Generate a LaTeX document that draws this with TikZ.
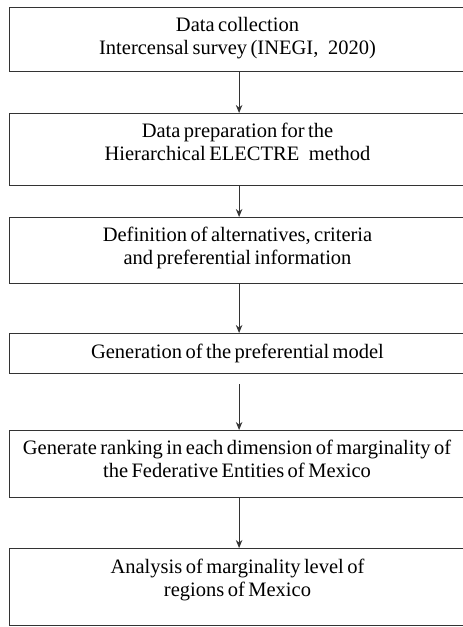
\documentclass[tikz,border=0pt]{standalone}
\usepackage{fontspec}
\setmainfont{Liberation Serif}
\usetikzlibrary{arrows.meta,calc}
\newcommand\boxtextfont{\fontsize{20.5}{23}\selectfont\spaceskip=0.17em plus 0.05em minus 0.05em\relax}
\begin{document}
\begin{tikzpicture}[x=1pt,y=-1pt,
 box/.style={draw=black!80, line width=1.2pt, rectangle, inner sep=0pt, minimum width=459pt, anchor=north west},
 txt/.style={align=center, font=\boxtextfont, inner sep=0pt, text=black, anchor=base},
 arr/.style={draw=black!80, line width=0.9pt, -{Stealth[length=8pt,width=6.5pt]}}]
\useasboundingbox (0,0) rectangle (463,627);
\clip (0,0) rectangle (463,627);
\fill[white] (0,0) rectangle (463,627);
\node[box, minimum height=64pt] (b1) at (9,7) {};
\node[box, minimum height=72pt] (b2) at (9,113) {};
\node[box, minimum height=66pt] (b3) at (9,217) {};
\node[box, minimum height=40pt] (b4) at (9,333) {};
\node[box, minimum height=67pt] (b5) at (9,430) {};
\node[box, minimum height=77pt] (b6) at (9,548) {};
\node[txt] (t1) at (237.5,54) {Data collection\\Intercensal survey (INEGI, \hspace{0.3em}2020)};
\node[txt] (t2) at (237.5,160) {Data preparation for the\\Hierarchical ELECTRE \hspace{0.3em}method};
\node[txt] (t3) at (237.5,264) {Definition of alternatives, criteria\\and preferential information};
\node[txt] (t4) at (237.5,358) {Generation of the preferential model};
\node[txt] (t5) at (237,477) {Generate ranking in each dimension of marginality of\\the Federative Entities of Mexico};
\node[txt] (t6) at (237.5,596) {Analysis of marginality level of\\regions of Mexico};
\coordinate (c4) at ($(b4.south)+(0,10)$);
\draw[arr] (b1.south) -- (b2.north);
\draw[arr] (b2.south) -- (b3.north);
\draw[arr] (b3.south) -- (b4.north);
\draw[arr] (c4) -- (b5.north);
\draw[arr] (b5.south) -- (b6.north);
\end{tikzpicture}
\end{document}
